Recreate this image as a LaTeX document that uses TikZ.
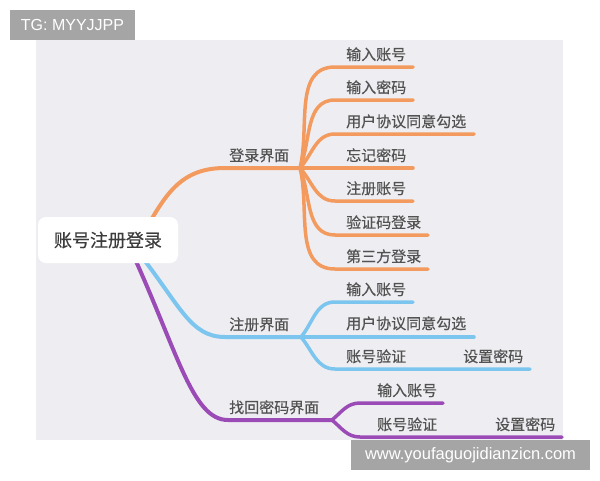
\documentclass[tikz,border=0pt]{standalone}
\usepackage{fontspec}
\newfontfamily\cjk[FakeBold=0.4]{Noto Sans CJK SC}
\newfontfamily\latn{Liberation Sans}
\definecolor{bgc}{HTML}{EEEEF2}
\definecolor{orc}{HTML}{F39A5E}
\definecolor{blc}{HTML}{7CC5EE}
\definecolor{puc}{HTML}{9B4BB5}
\definecolor{txc}{HTML}{525252}
\definecolor{rootc}{HTML}{3C3C3C}
\definecolor{wmc}{HTML}{A5A5A5}
\tikzset{
  lbl/.style={anchor=base west, inner sep=0pt, text=txc, font=\cjk\fontsize{15}{15}\selectfont},
  mainln/.style={line width=4pt, line cap=round},
  subln/.style={line width=3.5pt, line cap=round},
  wmbox/.style={fill=wmc, text=white, inner sep=0pt, font=\latn\fontsize{16}{16}\selectfont},
}
\begin{document}
\begin{tikzpicture}[x=1pt,y=-1pt]
\useasboundingbox (0,0) rectangle (600,480);
\fill[bgc] (36,40) rectangle (563,440);

% root inner starting points
\coordinate (r1) at (142,236);
\coordinate (r2) at (138,252);
\coordinate (r3) at (130,248);

% ---------- orange branch ----------
\coordinate (Ah) at (225,168);
\coordinate (A) at (300,168);
\draw[mainln, orc] (r1) .. controls (165,195) and (180,168) .. (Ah) -- (A);
\foreach \i/\y/\e/\o in {1/67/413/76, 2/100/413/68, 3/134/474/48, 5/201/413/-48, 6/235/428/-68, 7/269/428/-76}{
  \coordinate (a\i s) at (335,\y);
  \coordinate (a\i e) at (\e,\y);
  \draw[subln, orc] (A) to[out=\o,in=180] (a\i s) -- (a\i e);
}
\coordinate (a4e) at (413,168);
\draw[subln, orc] (A) -- (a4e);

% ---------- blue branch ----------
\coordinate (Bh) at (225,337);
\coordinate (B) at (301,337);
\draw[mainln, blc] (r2) .. controls (180,305) and (190,337) .. (Bh) -- (B);
\foreach \i/\y/\e/\o in {1/302/413/50, 3/369/530/-50}{
  \coordinate (b\i s) at (335,\y);
  \coordinate (b\i e) at (\e,\y);
  \draw[subln, blc] (B) to[out=\o,in=180] (b\i s) -- (b\i e);
}
\coordinate (b2e) at (474,337);
\draw[subln, blc] (B) -- (b2e);

% ---------- purple branch ----------
\coordinate (Ch) at (228,420);
\coordinate (C) at (332,420);
\draw[mainln, puc] (r3) .. controls (178,352) and (192,420) .. (Ch) -- (C);
\foreach \i/\y/\e/\o in {1/403/443/40, 2/437/562/-40}{
  \coordinate (c\i s) at (360,\y);
  \coordinate (c\i e) at (\e,\y);
  \draw[subln, puc] (C) to[out=\o,in=180] (c\i s) -- (c\i e);
}

% ---------- root ----------
\node[fill=white, rounded corners=8pt, minimum width=140pt, minimum height=46pt,
      inner sep=0pt, text=rootc, font=\cjk\fontsize{18}{18}\selectfont] (root) at (108,240) {账号注册登录};

% ---------- labels ----------
\node[lbl] (lA) at (229,161) {登录界面};
\node[lbl] (lB) at (229,330) {注册界面};
\node[lbl] (lC) at (229,413) {找回密码界面};

\node[lbl] (ta1) at (346,60) {输入账号};
\node[lbl] (ta2) at (346,93) {输入密码};
\node[lbl] (ta3) at (346,127) {用户协议同意勾选};
\node[lbl] (ta4) at (346,161) {忘记密码};
\node[lbl] (ta5) at (346,194) {注册账号};
\node[lbl] (ta6) at (346,228) {验证码登录};
\node[lbl] (ta7) at (346,262) {第三方登录};

\node[lbl] (tb1) at (346,295) {输入账号};
\node[lbl] (tb2) at (346,329) {用户协议同意勾选};
\node[lbl] (tb3) at (346,362) {账号验证};
\node[lbl] (tb4) at (463,362) {设置密码};

\node[lbl] (tc1) at (377,396) {输入账号};
\node[lbl] (tc2) at (377,430) {账号验证};
\node[lbl] (tc3) at (495,430) {设置密码};

% ---------- watermark boxes ----------
\node[wmbox, minimum width=125pt, minimum height=30pt] (tg) at (72.5,25) {TG: MYYJJPP};
\node[wmbox, minimum width=239pt, minimum height=30pt, font=\latn\fontsize{16.5}{16.5}\selectfont] (wm) at (470.5,455) {www.youfaguojidianzicn.com};
\end{tikzpicture}
\end{document}
